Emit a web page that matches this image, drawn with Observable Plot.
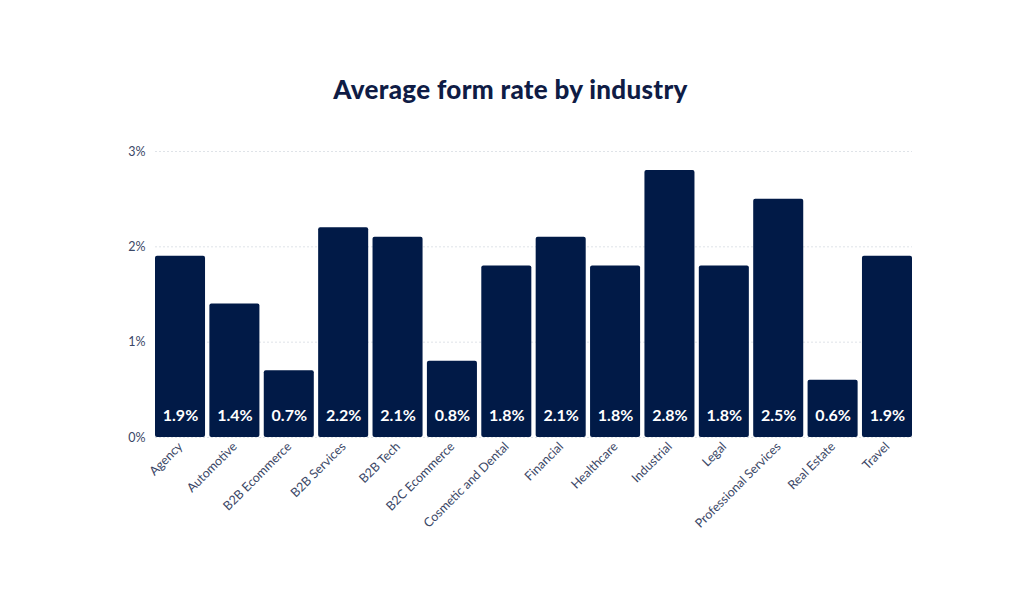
<!DOCTYPE html>
<html>
<head>
<meta charset="utf-8">
<script src="https://cdn.jsdelivr.net/npm/d3@7"></script>
<script src="https://cdn.jsdelivr.net/npm/@observablehq/plot@0.6"></script>
<style>
  html, body { margin: 0; padding: 0; background: #fff; }
  #wrap { width: 1021px; height: 604px; position: relative; overflow: hidden; }
  #title { position: absolute; top: 73px; left: 0; width: 1021px; text-align: center;
    font-family: Lato, "Open Sans", sans-serif; font-weight: 900; font-size: 26px; color: #0f1c45; letter-spacing: 0.3px; }
  #chart { position: absolute; top: 120px; left: 0; }
</style>
</head>
<body>
<div id="wrap">
  <div id="title">Average form rate by industry</div>
  <div id="chart"></div>
</div>
<script>
const industries = ["Agency", "Automotive", "B2B Ecommerce", "B2B Services", "B2B Tech", "B2C Ecommerce",
  "Cosmetic and Dental", "Financial", "Healthcare", "Industrial", "Legal", "Professional Services",
  "Real Estate", "Travel"];
const rates = [1.9, 1.4, 0.7, 2.2, 2.1, 0.8, 1.8, 2.1, 1.8, 2.8, 1.8, 2.5, 0.6, 1.9];
const yTicks = [0, 1, 2, 3];

const data = industries.map((d, i) => ({industry: d, rate: rates[i]}));

const chart = Plot.plot({
  width: 1021,
  height: 484,
  marginTop: 31,
  marginLeft: 155,
  marginRight: 109,
  marginBottom: 167,
  style: { fontFamily: "Lato, 'Open Sans', sans-serif", fontSize: "12.5px", color: "#3b4766", background: "white" },
  x: { domain: industries, paddingInner: 0.08, paddingOuter: 0, round: false, label: null },
  y: { domain: [0, 3], label: null },
  marks: [
    Plot.gridY(yTicks, { stroke: "#dfe3e8", strokeOpacity: 1, strokeDasharray: "2,2" }),
    Plot.axisY(yTicks, { tickSize: 0, tickPadding: 10, tickFormat: d => d + "%", fill: "#3b4766", fontSize: 12.5 }),
    Plot.axisX({ tickSize: 0, tickPadding: 7, tickRotate: -45, fill: "#3b4766", fontSize: 12.5 }),
    Plot.barY(data, { x: "industry", y: "rate", fill: "#011a47", rx: 2 }),
    Plot.text(data, { x: "industry", y: () => 0, text: d => d.rate.toFixed(1) + "%", dy: -22,
      fill: "white", fontWeight: "bold", fontSize: 16 })
  ]
});
document.getElementById("chart").appendChild(chart);
</script>
</body>
</html>
